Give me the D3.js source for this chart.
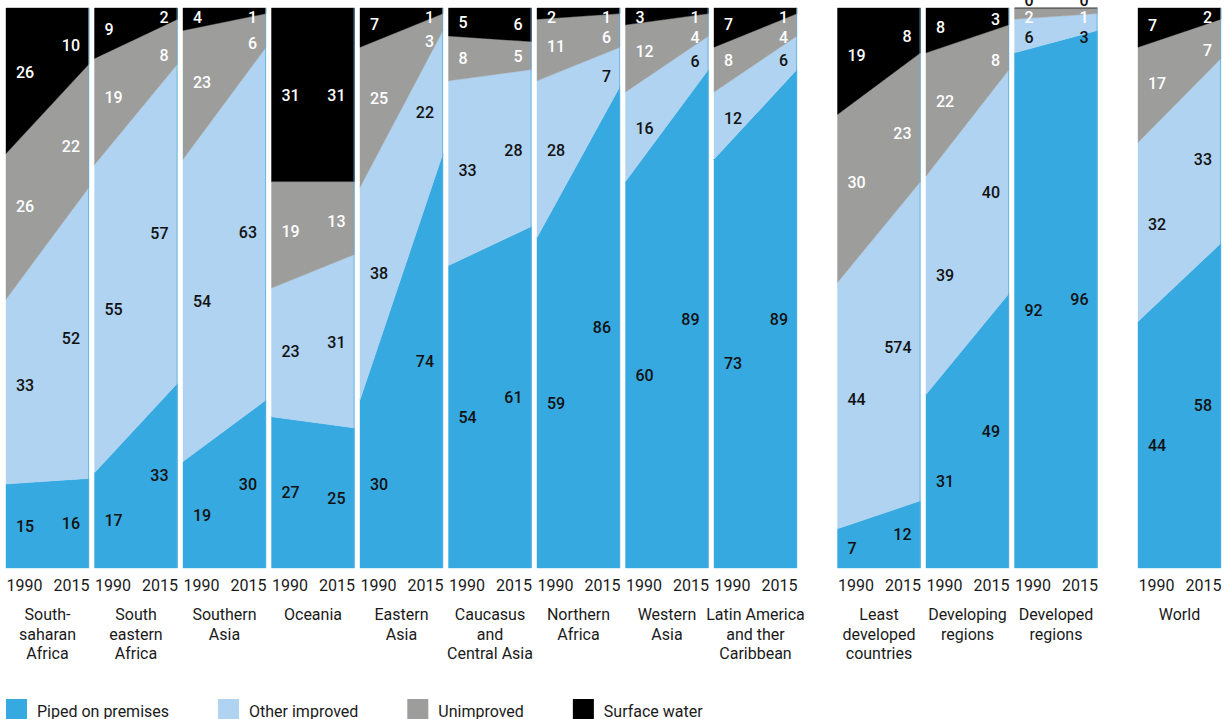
<!DOCTYPE html>
<html>
<head>
<meta charset="utf-8">
<script src="https://cdn.jsdelivr.net/npm/d3@7"></script>
<style>
html, body { margin: 0; padding: 0; background: #fff; }
svg { display: block; font-family: Roboto, "Noto Sans", sans-serif; }
</style>
</head>
<body>
<svg id="chart" width="1228" height="719"></svg>
<script>
// ---------------- DATA ----------------
const categories = [
  "South-\nsaharan\nAfrica",
  "South\neastern\nAfrica",
  "Southern\nAsia",
  "Oceania",
  "Eastern\nAsia",
  "Caucasus\nand\nCentral Asia",
  "Northern\nAfrica",
  "Western\nAsia",
  "Latin America\nand ther\nCaribbean",
  "Least\ndeveloped\ncountries",
  "Developing\nregions",
  "Developed\nregions",
  "World"
];
const groupOf = [0, 0, 0, 0, 0, 0, 0, 0, 0, 1, 1, 1, 2];
const years = ["1990", "2015"];

const piped1990   = [15, 17, 19, 27, 30, 54, 59, 69, 73,  7, 31, 92, 44];
const piped2015   = [16, 33, 30, 25, 74, 61, 86, 89, 89, 12, 49, 96, 58];
const other1990   = [33, 55, 54, 23, 38, 33, 28, 16, 12, 44, 39,  6, 32];
const other2015   = [52, 57, 63, 31, 22, 28,  7,  6,  6, 57, 40,  3, 33];
const unimp1990   = [26, 19, 23, 19, 25,  8, 11, 12,  8, 30, 22,  2, 17];
const unimp2015   = [22,  8,  6, 13,  3,  5,  6,  4,  4, 23,  8,  1,  7];
const surface1990 = [26,  9,  4, 31,  7,  5,  2,  3,  7, 19,  8,  0,  7];
const surface2015 = [10,  2,  1, 31,  1,  6,  1,  1,  1,  8,  3,  0,  2];

// printed label text that differs from the plotted value (as in the source)
const labelOverrides = [
  { category: 7, key: "piped", year: "1990", text: "60" },
  { category: 9, key: "other", year: "2015", text: "574" }
];

const seriesKeys  = ["piped", "other", "unimp", "surface"];
const seriesNames = ["Piped on premises", "Other improved", "Unimproved", "Surface water"];
const seriesColors = ["#36a9e0", "#afd3f1", "#9d9d9c", "#000000"];
const labelColors  = ["#111111", "#111111", "#ffffff", "#ffffff"];

// ---------------- LAYOUT ----------------
const plotTop = 8, plotBottom = 568;
const panelW = 83, pitch = 88.5, groupGap = 35, startX = 6;
const labelT = { piped: 0, other: 0.1, unimp: 0.2, surface: 0.2 };
const minLabelGap = 20;

const svg = d3.select("#chart");
const y = d3.scaleLinear().domain([0, 100]).range([plotBottom, plotTop]);
const color = d3.scaleOrdinal().domain(seriesKeys).range(seriesColors);
const lblColor = d3.scaleOrdinal().domain(seriesKeys).range(labelColors);

const valuesFor = {
  piped: [piped1990, piped2015],
  other: [other1990, other2015],
  unimp: [unimp1990, unimp2015],
  surface: [surface1990, surface2015]
};

const xLeft = i => startX + i * pitch + groupOf[i] * groupGap;

categories.forEach((cat, i) => {
  const L = xLeft(i), R = L + panelW;
  const rows = years.map((yr, j) => {
    const r = { year: yr };
    seriesKeys.forEach(k => { r[k] = valuesFor[k][j][i]; });
    return r;
  });
  const stacked = d3.stack().keys(seriesKeys)(rows);
  const xs = d3.scalePoint().domain(years).range([L, R]);

  const g = svg.append("g").attr("class", "panel");

  const area = d3.area()
    .x(d => xs(d.data.year))
    .y0(d => y(d[0]))
    .y1(d => y(d[1]));

  g.selectAll("path.layer")
    .data(stacked)
    .join("path")
    .attr("class", "layer")
    .attr("d", area)
    .attr("fill", d => color(d.key))
    .attr("stroke", d => color(d.key))
    .attr("stroke-width", 0.4);

  // thin right edge
  g.append("line")
    .attr("x1", R - 0.5).attr("x2", R - 0.5)
    .attr("y1", y(100)).attr("y2", y(0))
    .attr("stroke", "#5aaee0").attr("stroke-width", 1).attr("opacity", 0.7);

  // value labels, one column per year, placed top-down so they do not collide
  years.forEach((yr, j) => {
    const labels = stacked.map(layer => {
      const key = layer.key;
      const v = valuesFor[key][j][i];
      const t = j === 0 ? labelT[key] : 1 - labelT[key];
      const lo = layer[0][0] + (layer[1][0] - layer[0][0]) * t;
      const hi = layer[0][1] + (layer[1][1] - layer[0][1]) * t;
      const ov = labelOverrides.find(o => o.category === i && o.key === key && o.year === yr);
      return {
        key, v,
        cy: y((lo + hi) / 2),
        text: ov ? ov.text : String(v),
        fill: v === 0 ? "#111111" : lblColor(key)
      };
    }).reverse(); // top layer first

    let prev = -Infinity;
    labels.forEach(lb => {
      if (lb.v === 0) { lb.cy = y(100) - 8; return; }
      lb.cy = Math.max(lb.cy, plotTop + 9, prev + minLabelGap);
      prev = lb.cy;
    });

    labels.forEach(lb => {
      g.append("text")
        .attr("x", j === 0 ? L + 10 : R - 9)
        .attr("y", lb.cy)
        .attr("dy", "0.36em")
        .attr("text-anchor", j === 0 ? "start" : "end")
        .attr("font-size", 16)
        .attr("font-weight", 500)
        .attr("fill", lb.fill)
        .text(lb.text);
    });
  });

  // year axis
  const ax = svg.append("g")
    .attr("transform", `translate(0,${plotBottom})`)
    .call(d3.axisBottom(xs).tickSize(0).tickPadding(0));
  ax.select(".domain").remove();
  ax.selectAll(".tick text")
    .attr("y", 23)
    .attr("dy", 0)
    .attr("font-size", 16)
    .attr("font-family", "Roboto, sans-serif")
    .attr("fill", "#1a1a1a")
    .attr("text-anchor", (d, k) => k === 0 ? "start" : "end");

  // region name
  const lines = cat.split("\n");
  const nt = svg.append("text")
    .attr("x", (L + R) / 2)
    .attr("y", 620)
    .attr("text-anchor", "middle")
    .attr("font-size", 16)
    .attr("fill", "#1a1a1a");
  lines.forEach((ln, k) => {
    nt.append("tspan").attr("x", (L + R) / 2).attr("y", 620 + k * 19.5).text(ln);
  });
});

// ---------------- LEGEND ----------------
const legend = svg.append("g").attr("class", "legend");
let lx = 6;
seriesKeys.forEach((k, idx) => {
  legend.append("rect")
    .attr("x", lx).attr("y", 699)
    .attr("width", 21).attr("height", 21)
    .attr("fill", color(k));
  const t = legend.append("text")
    .attr("x", lx + 31).attr("y", 717)
    .attr("font-size", 16)
    .attr("fill", "#1a1a1a")
    .text(seriesNames[idx]);
  lx = lx + 31 + t.node().getComputedTextLength() + 49;
});
</script>
</body>
</html>
